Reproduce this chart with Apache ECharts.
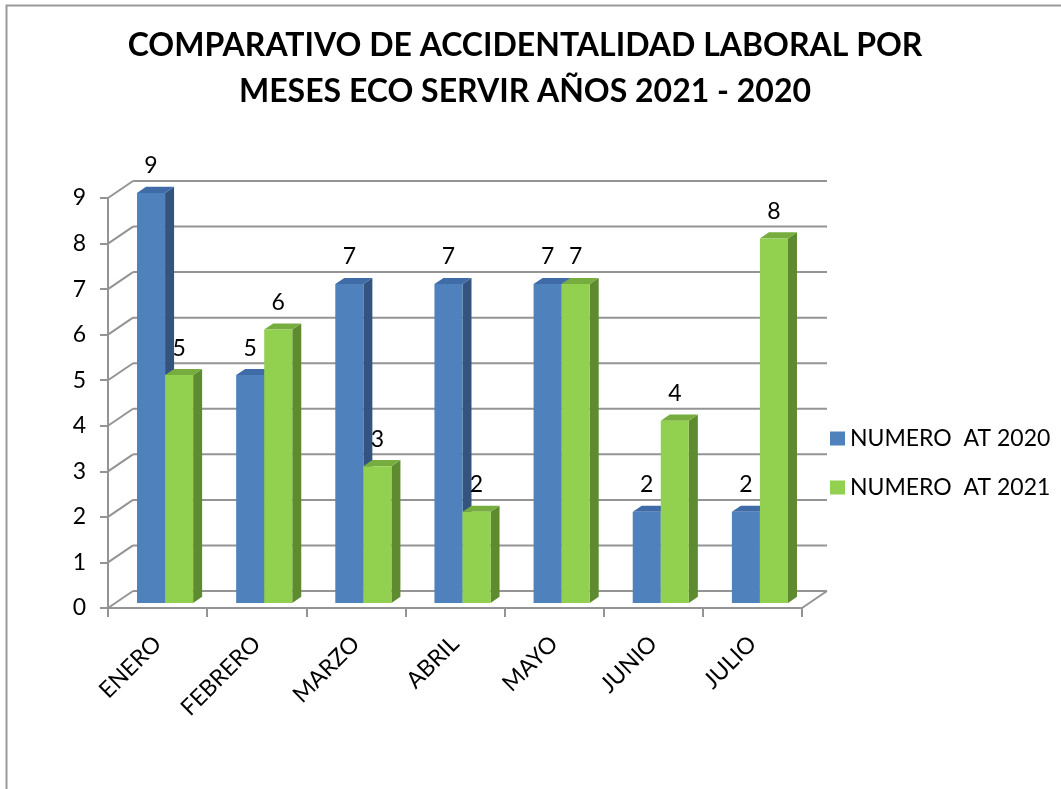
<!DOCTYPE html>
<html>
<head>
<meta charset="utf-8">
<script src="https://cdn.jsdelivr.net/npm/echarts@6/dist/echarts.min.js"></script>
<style>
html,body{margin:0;padding:0;background:#fff;}
#chart{width:1061px;height:789px;}
</style>
</head>
<body>
<div id="chart"></div>
<script>
const categories = ['ENERO','FEBRERO','MARZO','ABRIL','MAYO','JUNIO','JULIO'];
const at2020 = [9,5,7,7,7,2,2];
const at2021 = [5,6,3,2,7,4,8];
const yTicks = [0,1,2,3,4,5,6,7,8,9];
const seriesNames = ['NUMERO  AT 2020','NUMERO  AT 2021'];
const titleText = 'COMPARATIVO DE ACCIDENTALIDAD LABORAL POR\nMESES ECO SERVIR AÑOS 2021 - 2020';

const FONT = 'Lato, "Open Sans", sans-serif';
const D = {x: 25, y: -17};          // depth vector of the 3D floor
const BAR_FRONT = 0.3, BAR_DEPTH = 0.36, BAR_W = 0.283;
const LINE = '#949494';

const palettes = [
  {front:'#4f81bd', side:'#34547f', top:'#3f6ca6'},
  {front:'#92d050', side:'#5f8b30', top:'#76ad3e'}
];

function barRender(sideIdx){
  const c = palettes[sideIdx];
  return function(params, api){
    const i = api.value(0), v = api.value(1);
    const base = api.coord([i, 0]);
    const top = api.coord([i, v]);
    const band = api.size([1, 0])[0];
    const w = band * BAR_W;
    const fx = D.x * BAR_FRONT, fy = D.y * BAR_FRONT;
    const x0 = base[0] + fx + (sideIdx === 0 ? -w : 0);
    const x1 = x0 + w;
    const yb = base[1] + fy, yt = top[1] + fy;
    const bx = D.x * BAR_DEPTH, by = D.y * BAR_DEPTH;
    return {
      type: 'group',
      children: [
        {type:'polygon', shape:{points:[[x1,yt],[x1+bx,yt+by],[x1+bx,yb+by],[x1,yb]]}, style:{fill:c.side}},
        {type:'polygon', shape:{points:[[x0,yt],[x1,yt],[x1+bx,yt+by],[x0+bx,yt+by]]}, style:{fill:c.top}},
        {type:'rect', shape:{x:x0, y:yt, width:w, height:yb-yt}, style:{fill:c.front}},
        {type:'text', style:{text:String(v), x:(x0+x1)/2, y:yt-27, textAlign:'center', textVerticalAlign:'middle', font:'23px ' + FONT, fill:'#000'}}
      ]
    };
  };
}

function wallRender(params, api){
  const cs = params.coordSys;
  const v = api.value(1);
  const y = api.coord([0, v])[1];
  const st = {stroke: LINE, lineWidth: 2, fill: null};
  const ch = [
    {type:'line', shape:{x1:cs.x, y1:y, x2:cs.x+D.x, y2:y+D.y}, style:st},
    {type:'line', shape:{x1:cs.x+D.x, y1:y+D.y, x2:cs.x+cs.width+D.x, y2:y+D.y}, style:st}
  ];
  if (v === 0) {
    ch.push({type:'line', shape:{x1:cs.x+cs.width, y1:y, x2:cs.x+cs.width+D.x, y2:y+D.y}, style:st});
  }
  return {type:'group', children: ch};
}

const chart = echarts.init(document.getElementById('chart'), null, {renderer:'canvas'});
chart.setOption({
  animation: false,
  backgroundColor: '#fff',
  graphic: [{
    type:'rect', shape:{x:6.5, y:5.5, width:1100, height:900},
    style:{fill:null, stroke:'#999', lineWidth:2}, z:-10, silent:true
  }],
  title: {
    text: titleText,
    left: 520, top: 18, textAlign: 'center',
    textStyle: {fontFamily: FONT, fontWeight:'bold', fontSize:32, lineHeight:46, color:'#000'}
  },
  legend: {
    data: seriesNames,
    orient: 'vertical',
    left: 825, top: 422,
    itemWidth: 15, itemHeight: 14, itemGap: 26,
    icon: 'rect',
    textStyle: {fontFamily: FONT, fontSize:23, lineHeight:23, color:'#000'}
  },
  grid: {left:108, right:259, top:198, bottom:181, containLabel:false},
  xAxis: {
    type:'category', data: categories,
    axisLine:{show:true, lineStyle:{color:LINE, width:2}},
    axisTick:{show:true, length:9, lineStyle:{color:LINE, width:2}},
    axisLabel:{rotate:45, margin:32, fontFamily:FONT, fontSize:23, color:'#000'},
    splitLine:{show:false}
  },
  yAxis: {
    type:'value', min:0, max:9, interval:1,
    axisLine:{show:true, lineStyle:{color:LINE, width:2}},
    axisTick:{show:true, length:8, lineStyle:{color:LINE, width:2}},
    axisLabel:{margin:22, fontFamily:FONT, fontSize:23, color:'#000'},
    splitLine:{show:false}
  },
  series: [
    {type:'custom', name:'wall', renderItem: wallRender, data: yTicks.map(v => [0, v]), encode:{x:0, y:1}, z:1, silent:true},
    {type:'custom', name: seriesNames[0], renderItem: barRender(0), itemStyle:{color:palettes[0].front},
     data: at2020.map((v,i) => [i, v]), encode:{x:0, y:1}, z:2},
    {type:'custom', name: seriesNames[1], renderItem: barRender(1), itemStyle:{color:palettes[1].front},
     data: at2021.map((v,i) => [i, v]), encode:{x:0, y:1}, z:3}
  ]
});
</script>
</body>
</html>
